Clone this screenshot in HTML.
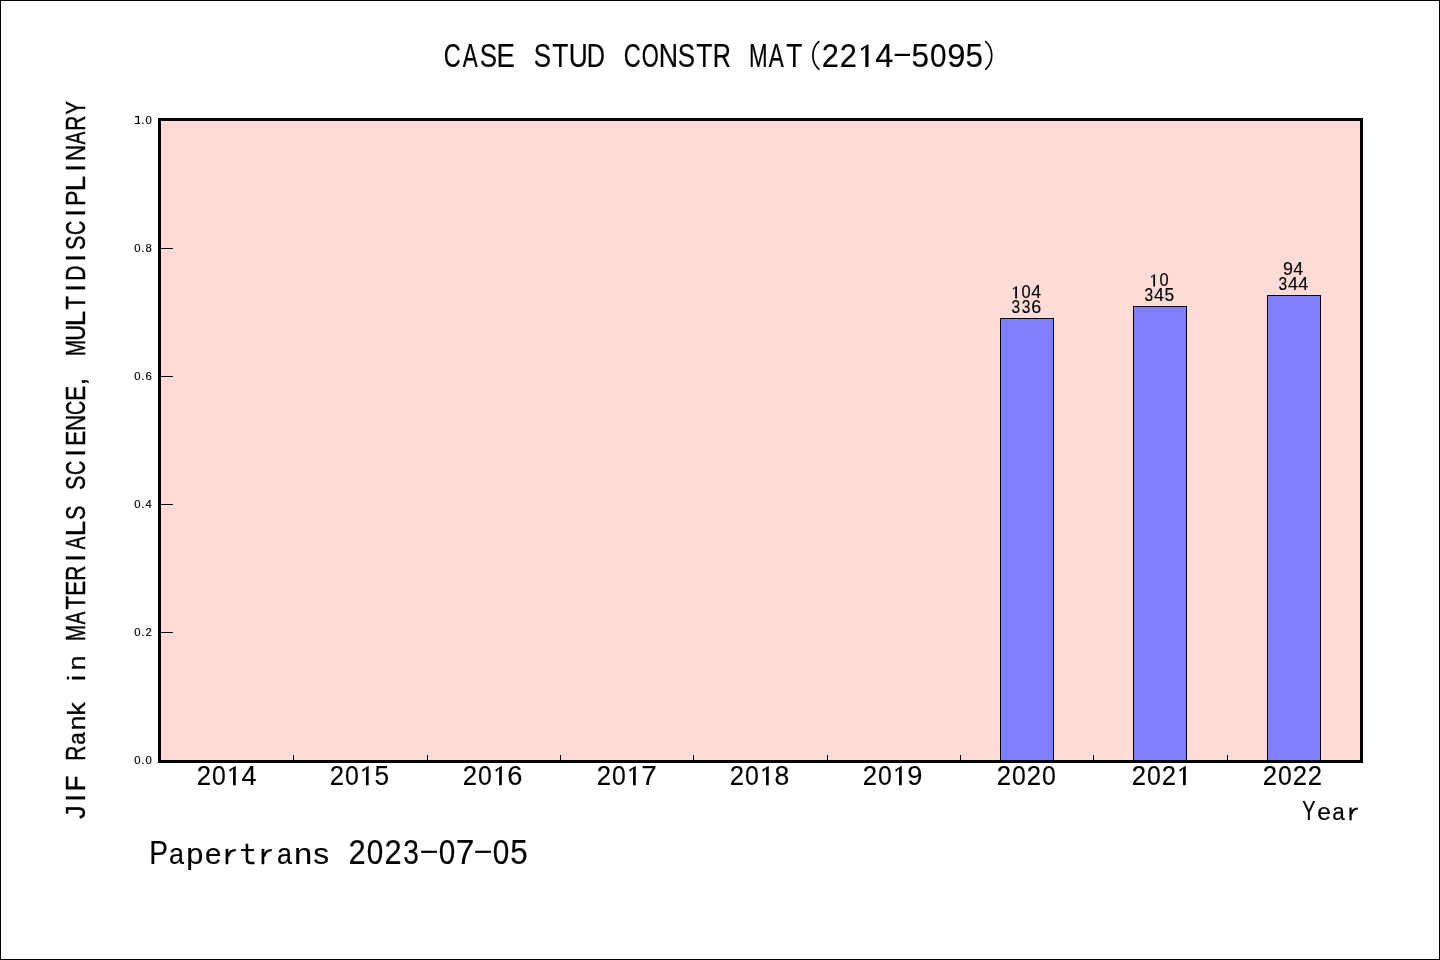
<!DOCTYPE html><html><head><meta charset="utf-8"><title>CASE STUD CONSTR MAT</title><style>html,body{margin:0;padding:0;background:#fff;width:1440px;height:960px;overflow:hidden}svg{display:block;will-change:transform}</style></head><body>
<svg width="1440" height="960" viewBox="0 0 1440 960">
<rect x="0.5" y="0.5" width="1439" height="959" fill="#fff" stroke="#000" stroke-width="1"/>
<rect x="158" y="118" width="1205" height="645" fill="#000"/>
<rect x="161" y="121" width="1199" height="639" fill="#fddbd7"/>
<rect x="161" y="632" width="12" height="1" fill="#000"/>
<rect x="161" y="504" width="12" height="1" fill="#000"/>
<rect x="161" y="376" width="12" height="1" fill="#000"/>
<rect x="161" y="248" width="12" height="1" fill="#000"/>
<rect x="293" y="755" width="1" height="5" fill="#000"/>
<rect x="427" y="755" width="1" height="5" fill="#000"/>
<rect x="560" y="755" width="1" height="5" fill="#000"/>
<rect x="693" y="755" width="1" height="5" fill="#000"/>
<rect x="827" y="755" width="1" height="5" fill="#000"/>
<rect x="960" y="755" width="1" height="5" fill="#000"/>
<rect x="1093" y="755" width="1" height="5" fill="#000"/>
<rect x="1227" y="755" width="1" height="5" fill="#000"/>
<rect x="1000" y="318" width="54" height="442" fill="#000"/>
<rect x="1001" y="319" width="52" height="441" fill="#8080ff"/>
<rect x="1133" y="306" width="54" height="454" fill="#000"/>
<rect x="1134" y="307" width="52" height="453" fill="#8080ff"/>
<rect x="1267" y="295" width="54" height="465" fill="#000"/>
<rect x="1268" y="296" width="52" height="464" fill="#8080ff"/>
<path d="M1016.94 285.9H1016.94V298.4H1015.2V298.4L1015.2 287.77L1013.24 289.77L1012.73 288.4Z" fill="#000"/>
<text transform="translate(1021.43 298.4) scale(0.918 1.000)" font-size="17.91" font-family='"Liberation Sans",sans-serif' fill="#000" stroke="#000" stroke-width="0.16">0</text>
<text transform="translate(1031.33 298.4) scale(1.000 1.000)" font-size="17.91" font-family='"Liberation Sans",sans-serif' fill="#000" stroke="#000" stroke-width="0.15">4</text>
<text transform="translate(1011.48 312.5) scale(0.867 1.000)" font-size="17.91" font-family='"Liberation Sans",sans-serif' fill="#000" stroke="#000" stroke-width="0.17">3</text>
<text transform="translate(1021.73 312.5) scale(0.867 1.000)" font-size="17.91" font-family='"Liberation Sans",sans-serif' fill="#000" stroke="#000" stroke-width="0.17">3</text>
<text transform="translate(1031.21 312.5) scale(1.000 1.000)" font-size="17.91" font-family='"Liberation Sans",sans-serif' fill="#000" stroke="#000" stroke-width="0.15">6</text>
<path d="M1155.06 273.9H1155.06V286.4H1153.33V286.4L1153.33 275.77L1151.37 277.77L1150.85 276.4Z" fill="#000"/>
<text transform="translate(1159.56 286.4) scale(0.918 1.000)" font-size="17.91" font-family='"Liberation Sans",sans-serif' fill="#000" stroke="#000" stroke-width="0.16">0</text>
<text transform="translate(1144.48 300.5) scale(0.867 1.000)" font-size="17.91" font-family='"Liberation Sans",sans-serif' fill="#000" stroke="#000" stroke-width="0.17">3</text>
<text transform="translate(1154.08 300.5) scale(1.000 1.000)" font-size="17.91" font-family='"Liberation Sans",sans-serif' fill="#000" stroke="#000" stroke-width="0.15">4</text>
<text transform="translate(1164.43 300.5) scale(0.972 1.000)" font-size="17.91" font-family='"Liberation Sans",sans-serif' fill="#000" stroke="#000" stroke-width="0.15">5</text>
<text transform="translate(1282.9 275.4) scale(1.000 1.000)" font-size="17.91" font-family='"Liberation Sans",sans-serif' fill="#000" stroke="#000" stroke-width="0.15">9</text>
<text transform="translate(1293.2 275.4) scale(1.000 1.000)" font-size="17.91" font-family='"Liberation Sans",sans-serif' fill="#000" stroke="#000" stroke-width="0.15">4</text>
<text transform="translate(1278.48 289.5) scale(0.867 1.000)" font-size="17.91" font-family='"Liberation Sans",sans-serif' fill="#000" stroke="#000" stroke-width="0.17">3</text>
<text transform="translate(1288.08 289.5) scale(1.000 1.000)" font-size="17.91" font-family='"Liberation Sans",sans-serif' fill="#000" stroke="#000" stroke-width="0.15">4</text>
<text transform="translate(1298.33 289.5) scale(1.000 1.000)" font-size="17.91" font-family='"Liberation Sans",sans-serif' fill="#000" stroke="#000" stroke-width="0.15">4</text>
<text transform="translate(443.63 66.9) scale(0.706 1.000)" font-size="33.43" font-family='"Liberation Sans",sans-serif' fill="#000" stroke="#000" stroke-width="0.21">C</text>
<text transform="translate(462.79 66.9) scale(0.674 1.000)" font-size="33.43" font-family='"Liberation Sans",sans-serif' fill="#000" stroke="#000" stroke-width="0.22">A</text>
<text transform="translate(479.65 66.9) scale(0.776 1.000)" font-size="33.43" font-family='"Liberation Sans",sans-serif' fill="#000" stroke="#000" stroke-width="0.19">S</text>
<text transform="translate(496.57 66.9) scale(0.825 1.000)" font-size="33.43" font-family='"Liberation Sans",sans-serif' fill="#000" stroke="#000" stroke-width="0.18">E</text>
<text transform="translate(533.65 66.9) scale(0.776 1.000)" font-size="33.43" font-family='"Liberation Sans",sans-serif' fill="#000" stroke="#000" stroke-width="0.19">S</text>
<text transform="translate(552.24 66.9) scale(0.790 1.000)" font-size="33.43" font-family='"Liberation Sans",sans-serif' fill="#000" stroke="#000" stroke-width="0.19">T</text>
<text transform="translate(568.8 66.9) scale(0.787 1.000)" font-size="33.43" font-family='"Liberation Sans",sans-serif' fill="#000" stroke="#000" stroke-width="0.19">U</text>
<text transform="translate(586.76 66.9) scale(0.755 1.000)" font-size="33.43" font-family='"Liberation Sans",sans-serif' fill="#000" stroke="#000" stroke-width="0.2">D</text>
<text transform="translate(623.63 66.9) scale(0.706 1.000)" font-size="33.43" font-family='"Liberation Sans",sans-serif' fill="#000" stroke="#000" stroke-width="0.21">C</text>
<text transform="translate(641.79 66.9) scale(0.655 1.000)" font-size="33.43" font-family='"Liberation Sans",sans-serif' fill="#000" stroke="#000" stroke-width="0.23">O</text>
<text transform="translate(658.64 66.9) scale(0.800 1.000)" font-size="33.43" font-family='"Liberation Sans",sans-serif' fill="#000" stroke="#000" stroke-width="0.19">N</text>
<text transform="translate(677.65 66.9) scale(0.776 1.000)" font-size="33.43" font-family='"Liberation Sans",sans-serif' fill="#000" stroke="#000" stroke-width="0.19">S</text>
<text transform="translate(696.24 66.9) scale(0.790 1.000)" font-size="33.43" font-family='"Liberation Sans",sans-serif' fill="#000" stroke="#000" stroke-width="0.19">T</text>
<text transform="translate(712.77 66.9) scale(0.753 1.000)" font-size="33.43" font-family='"Liberation Sans",sans-serif' fill="#000" stroke="#000" stroke-width="0.2">R</text>
<text transform="translate(749 66.9) scale(0.668 1.000)" font-size="33.43" font-family='"Liberation Sans",sans-serif' fill="#000" stroke="#000" stroke-width="0.22">M</text>
<text transform="translate(768.79 66.9) scale(0.674 1.000)" font-size="33.43" font-family='"Liberation Sans",sans-serif' fill="#000" stroke="#000" stroke-width="0.22">A</text>
<text transform="translate(786.24 66.9) scale(0.790 1.000)" font-size="33.43" font-family='"Liberation Sans",sans-serif' fill="#000" stroke="#000" stroke-width="0.19">T</text>
<path d="M819.35 41.2A18.76 18.76 0 0 0 819.35 69.6" fill="none" stroke="#000" stroke-width="1.7"/>
<text transform="translate(821.73 66.9) scale(0.922 1.020)" font-size="33.43" font-family='"Liberation Sans",sans-serif' fill="#000" stroke="#000" stroke-width="0.16">2</text>
<text transform="translate(839.73 66.9) scale(0.922 1.020)" font-size="33.43" font-family='"Liberation Sans",sans-serif' fill="#000" stroke="#000" stroke-width="0.16">2</text>
<path d="M868.49 43.9H868.49V66.9H865.29V66.9L865.29 47.35L861.69 51.03L860.74 48.5Z" fill="#000"/>
<text transform="translate(875.36 66.9) scale(0.972 1.020)" font-size="33.43" font-family='"Liberation Sans",sans-serif' fill="#000" stroke="#000" stroke-width="0.15">4</text>
<rect x="894.6" y="53.8" width="15.4" height="2.2" fill="#000"/>
<text transform="translate(911.57 66.9) scale(0.943 1.020)" font-size="33.43" font-family='"Liberation Sans",sans-serif' fill="#000" stroke="#000" stroke-width="0.16">5</text>
<text transform="translate(930.03 66.9) scale(0.890 1.020)" font-size="33.43" font-family='"Liberation Sans",sans-serif' fill="#000" stroke="#000" stroke-width="0.17">0</text>
<text transform="translate(947.21 66.9) scale(0.979 1.020)" font-size="33.43" font-family='"Liberation Sans",sans-serif' fill="#000" stroke="#000" stroke-width="0.15">9</text>
<text transform="translate(965.57 66.9) scale(0.943 1.020)" font-size="33.43" font-family='"Liberation Sans",sans-serif' fill="#000" stroke="#000" stroke-width="0.16">5</text>
<path d="M985.25 41.2A18.76 18.76 0 0 1 985.25 69.6" fill="none" stroke="#000" stroke-width="1.7"/>
<text transform="translate(196.76 785.3) scale(0.922 1.000)" font-size="27.87" font-family='"Liberation Sans",sans-serif' fill="#000" stroke="#000" stroke-width="0.16">2</text>
<text transform="translate(212.01 785.3) scale(0.890 1.000)" font-size="27.87" font-family='"Liberation Sans",sans-serif' fill="#000" stroke="#000" stroke-width="0.17">0</text>
<path d="M235.75 765.85H235.75V785.3H233.05V785.3L233.05 768.77L230 771.88L229.2 769.74Z" fill="#000"/>
<text transform="translate(241.45 785.3) scale(0.972 1.000)" font-size="27.87" font-family='"Liberation Sans",sans-serif' fill="#000" stroke="#000" stroke-width="0.15">4</text>
<text transform="translate(329.66 785.3) scale(0.922 1.000)" font-size="27.87" font-family='"Liberation Sans",sans-serif' fill="#000" stroke="#000" stroke-width="0.16">2</text>
<text transform="translate(344.91 785.3) scale(0.890 1.000)" font-size="27.87" font-family='"Liberation Sans",sans-serif' fill="#000" stroke="#000" stroke-width="0.17">0</text>
<path d="M368.65 765.85H368.65V785.3H365.95V785.3L365.95 768.77L362.9 771.88L362.1 769.74Z" fill="#000"/>
<text transform="translate(374.52 785.3) scale(0.942 1.000)" font-size="27.87" font-family='"Liberation Sans",sans-serif' fill="#000" stroke="#000" stroke-width="0.16">5</text>
<text transform="translate(462.86 785.3) scale(0.922 1.000)" font-size="27.87" font-family='"Liberation Sans",sans-serif' fill="#000" stroke="#000" stroke-width="0.16">2</text>
<text transform="translate(478.11 785.3) scale(0.890 1.000)" font-size="27.87" font-family='"Liberation Sans",sans-serif' fill="#000" stroke="#000" stroke-width="0.17">0</text>
<path d="M501.85 765.85H501.85V785.3H499.15V785.3L499.15 768.77L496.1 771.88L495.3 769.74Z" fill="#000"/>
<text transform="translate(507.31 785.3) scale(0.980 1.000)" font-size="27.87" font-family='"Liberation Sans",sans-serif' fill="#000" stroke="#000" stroke-width="0.15">6</text>
<text transform="translate(596.76 785.3) scale(0.922 1.000)" font-size="27.87" font-family='"Liberation Sans",sans-serif' fill="#000" stroke="#000" stroke-width="0.16">2</text>
<text transform="translate(612.01 785.3) scale(0.890 1.000)" font-size="27.87" font-family='"Liberation Sans",sans-serif' fill="#000" stroke="#000" stroke-width="0.17">0</text>
<path d="M635.75 765.85H635.75V785.3H633.05V785.3L633.05 768.77L630 771.88L629.2 769.74Z" fill="#000"/>
<text transform="translate(641.14 785.3) scale(1.000 1.000)" font-size="27.87" font-family='"Liberation Sans",sans-serif' fill="#000" stroke="#000" stroke-width="0.15">7</text>
<text transform="translate(729.76 785.3) scale(0.922 1.000)" font-size="27.87" font-family='"Liberation Sans",sans-serif' fill="#000" stroke="#000" stroke-width="0.16">2</text>
<text transform="translate(745.01 785.3) scale(0.890 1.000)" font-size="27.87" font-family='"Liberation Sans",sans-serif' fill="#000" stroke="#000" stroke-width="0.17">0</text>
<path d="M768.75 765.85H768.75V785.3H766.05V785.3L766.05 768.77L763 771.88L762.2 769.74Z" fill="#000"/>
<text transform="translate(774.52 785.3) scale(0.952 1.000)" font-size="27.87" font-family='"Liberation Sans",sans-serif' fill="#000" stroke="#000" stroke-width="0.16">8</text>
<text transform="translate(862.76 785.3) scale(0.922 1.000)" font-size="27.87" font-family='"Liberation Sans",sans-serif' fill="#000" stroke="#000" stroke-width="0.16">2</text>
<text transform="translate(878.01 785.3) scale(0.890 1.000)" font-size="27.87" font-family='"Liberation Sans",sans-serif' fill="#000" stroke="#000" stroke-width="0.17">0</text>
<path d="M901.75 765.85H901.75V785.3H899.05V785.3L899.05 768.77L896 771.88L895.2 769.74Z" fill="#000"/>
<text transform="translate(907.32 785.3) scale(0.979 1.000)" font-size="27.87" font-family='"Liberation Sans",sans-serif' fill="#000" stroke="#000" stroke-width="0.15">9</text>
<text transform="translate(996.76 785.3) scale(0.922 1.000)" font-size="27.87" font-family='"Liberation Sans",sans-serif' fill="#000" stroke="#000" stroke-width="0.16">2</text>
<text transform="translate(1012.01 785.3) scale(0.890 1.000)" font-size="27.87" font-family='"Liberation Sans",sans-serif' fill="#000" stroke="#000" stroke-width="0.17">0</text>
<text transform="translate(1026.76 785.3) scale(0.922 1.000)" font-size="27.87" font-family='"Liberation Sans",sans-serif' fill="#000" stroke="#000" stroke-width="0.16">2</text>
<text transform="translate(1042.01 785.3) scale(0.890 1.000)" font-size="27.87" font-family='"Liberation Sans",sans-serif' fill="#000" stroke="#000" stroke-width="0.17">0</text>
<text transform="translate(1131.76 785.3) scale(0.922 1.000)" font-size="27.87" font-family='"Liberation Sans",sans-serif' fill="#000" stroke="#000" stroke-width="0.16">2</text>
<text transform="translate(1147.01 785.3) scale(0.890 1.000)" font-size="27.87" font-family='"Liberation Sans",sans-serif' fill="#000" stroke="#000" stroke-width="0.17">0</text>
<text transform="translate(1161.76 785.3) scale(0.922 1.000)" font-size="27.87" font-family='"Liberation Sans",sans-serif' fill="#000" stroke="#000" stroke-width="0.16">2</text>
<path d="M1185.75 765.85H1185.75V785.3H1183.05V785.3L1183.05 768.77L1180 771.88L1179.2 769.74Z" fill="#000"/>
<text transform="translate(1262.76 785.3) scale(0.922 1.000)" font-size="27.87" font-family='"Liberation Sans",sans-serif' fill="#000" stroke="#000" stroke-width="0.16">2</text>
<text transform="translate(1278.01 785.3) scale(0.890 1.000)" font-size="27.87" font-family='"Liberation Sans",sans-serif' fill="#000" stroke="#000" stroke-width="0.17">0</text>
<text transform="translate(1292.76 785.3) scale(0.922 1.000)" font-size="27.87" font-family='"Liberation Sans",sans-serif' fill="#000" stroke="#000" stroke-width="0.16">2</text>
<text transform="translate(1307.76 785.3) scale(0.922 1.000)" font-size="27.87" font-family='"Liberation Sans",sans-serif' fill="#000" stroke="#000" stroke-width="0.16">2</text>
<text transform="translate(1302.34 820.3) scale(0.705 1.000)" font-size="28.34" font-family='"Liberation Sans",sans-serif' fill="#000" stroke="#000" stroke-width="0.21">Y</text>
<text transform="translate(1317.18 820.3) scale(0.868 0.860)" font-size="28.34" font-family='"Liberation Sans",sans-serif' fill="#000" stroke="#000" stroke-width="0.17">e</text>
<text transform="translate(1332.27 820.3) scale(0.793 0.860)" font-size="28.34" font-family='"Liberation Sans",sans-serif' fill="#000" stroke="#000" stroke-width="0.19">a</text>
<rect x="1349.42" y="807.55" width="2.25" height="12.75" fill="#000"/>
<path d="M1351.54 813.97C1352.33 809.63 1354.5 808.59 1357.92 808.59" fill="none" stroke="#000" stroke-width="1.96"/>
<text transform="translate(149.33 864.2) scale(0.832 1.000)" font-size="33.72" font-family='"Liberation Sans",sans-serif' fill="#000" stroke="#000" stroke-width="0.18">P</text>
<text transform="translate(169.02 864.2) scale(0.800 0.860)" font-size="33.72" font-family='"Liberation Sans",sans-serif' fill="#000" stroke="#000" stroke-width="0.19">a</text>
<text transform="translate(186.18 864.2) scale(0.914 0.860)" font-size="33.72" font-family='"Liberation Sans",sans-serif' fill="#000" stroke="#000" stroke-width="0.16">p</text>
<text transform="translate(204.92 864.2) scale(0.876 0.860)" font-size="33.72" font-family='"Liberation Sans",sans-serif' fill="#000" stroke="#000" stroke-width="0.17">e</text>
<rect x="225.6" y="848.9" width="2.7" height="15.3" fill="#000"/>
<path d="M228.15 856.6C229.1 851.4 231.7 850.15 235.8 850.15" fill="none" stroke="#000" stroke-width="2.35"/>
<path d="M246.95 843.7V859.2Q246.95 863.05 251.3 863.05H254.5" fill="none" stroke="#000" stroke-width="2.6"/>
<rect x="241" y="849.1" width="13" height="2" fill="#000"/>
<rect x="261.6" y="848.9" width="2.7" height="15.3" fill="#000"/>
<path d="M264.15 856.6C265.1 851.4 267.7 850.15 271.8 850.15" fill="none" stroke="#000" stroke-width="2.35"/>
<text transform="translate(277.02 864.2) scale(0.800 0.860)" font-size="33.72" font-family='"Liberation Sans",sans-serif' fill="#000" stroke="#000" stroke-width="0.19">a</text>
<text transform="translate(294 864.2) scale(0.968 0.860)" font-size="33.72" font-family='"Liberation Sans",sans-serif' fill="#000" stroke="#000" stroke-width="0.16">n</text>
<text transform="translate(313.29 864.2) scale(0.943 0.860)" font-size="33.72" font-family='"Liberation Sans",sans-serif' fill="#000" stroke="#000" stroke-width="0.16">s</text>
<text transform="translate(348.53 864.2) scale(0.914 1.020)" font-size="33.72" font-family='"Liberation Sans",sans-serif' fill="#000" stroke="#000" stroke-width="0.16">2</text>
<text transform="translate(366.83 864.2) scale(0.882 1.020)" font-size="33.72" font-family='"Liberation Sans",sans-serif' fill="#000" stroke="#000" stroke-width="0.17">0</text>
<text transform="translate(384.53 864.2) scale(0.914 1.020)" font-size="33.72" font-family='"Liberation Sans",sans-serif' fill="#000" stroke="#000" stroke-width="0.16">2</text>
<text transform="translate(403.37 864.2) scale(0.833 1.020)" font-size="33.72" font-family='"Liberation Sans",sans-serif' fill="#000" stroke="#000" stroke-width="0.18">3</text>
<rect x="421.2" y="850.7" width="15.8" height="2.2" fill="#000"/>
<text transform="translate(438.83 864.2) scale(0.882 1.020)" font-size="33.72" font-family='"Liberation Sans",sans-serif' fill="#000" stroke="#000" stroke-width="0.17">0</text>
<text transform="translate(455.72 864.2) scale(0.998 1.020)" font-size="33.72" font-family='"Liberation Sans",sans-serif' fill="#000" stroke="#000" stroke-width="0.15">7</text>
<rect x="475.2" y="850.7" width="15.8" height="2.2" fill="#000"/>
<text transform="translate(492.83 864.2) scale(0.882 1.020)" font-size="33.72" font-family='"Liberation Sans",sans-serif' fill="#000" stroke="#000" stroke-width="0.17">0</text>
<text transform="translate(510.37 864.2) scale(0.934 1.020)" font-size="33.72" font-family='"Liberation Sans",sans-serif' fill="#000" stroke="#000" stroke-width="0.16">5</text>
<text transform="translate(134.25 763.95) scale(1.000 1.000)" font-size="11.32" font-family='"Liberation Sans",sans-serif' fill="#000" stroke="#000" stroke-width="0.15">0</text>
<text transform="translate(141.23 763.95) scale(1.000 1.000)" font-size="11.32" font-family='"Liberation Sans",sans-serif' fill="#000" stroke="#000" stroke-width="0.15">.</text>
<text transform="translate(145.45 763.95) scale(1.000 1.000)" font-size="11.32" font-family='"Liberation Sans",sans-serif' fill="#000" stroke="#000" stroke-width="0.15">0</text>
<text transform="translate(134.25 635.95) scale(1.000 1.000)" font-size="11.32" font-family='"Liberation Sans",sans-serif' fill="#000" stroke="#000" stroke-width="0.15">0</text>
<text transform="translate(141.23 635.95) scale(1.000 1.000)" font-size="11.32" font-family='"Liberation Sans",sans-serif' fill="#000" stroke="#000" stroke-width="0.15">.</text>
<text transform="translate(145.45 635.95) scale(1.000 1.000)" font-size="11.32" font-family='"Liberation Sans",sans-serif' fill="#000" stroke="#000" stroke-width="0.15">2</text>
<text transform="translate(134.25 507.95) scale(1.000 1.000)" font-size="11.32" font-family='"Liberation Sans",sans-serif' fill="#000" stroke="#000" stroke-width="0.15">0</text>
<text transform="translate(141.23 507.95) scale(1.000 1.000)" font-size="11.32" font-family='"Liberation Sans",sans-serif' fill="#000" stroke="#000" stroke-width="0.15">.</text>
<text transform="translate(145.52 507.95) scale(0.991 1.000)" font-size="11.32" font-family='"Liberation Sans",sans-serif' fill="#000" stroke="#000" stroke-width="0.15">4</text>
<text transform="translate(134.25 379.95) scale(1.000 1.000)" font-size="11.32" font-family='"Liberation Sans",sans-serif' fill="#000" stroke="#000" stroke-width="0.15">0</text>
<text transform="translate(141.23 379.95) scale(1.000 1.000)" font-size="11.32" font-family='"Liberation Sans",sans-serif' fill="#000" stroke="#000" stroke-width="0.15">.</text>
<text transform="translate(145.41 379.95) scale(1.000 1.000)" font-size="11.32" font-family='"Liberation Sans",sans-serif' fill="#000" stroke="#000" stroke-width="0.15">6</text>
<text transform="translate(134.25 251.95) scale(1.000 1.000)" font-size="11.32" font-family='"Liberation Sans",sans-serif' fill="#000" stroke="#000" stroke-width="0.15">0</text>
<text transform="translate(141.23 251.95) scale(1.000 1.000)" font-size="11.32" font-family='"Liberation Sans",sans-serif' fill="#000" stroke="#000" stroke-width="0.15">.</text>
<text transform="translate(145.45 251.95) scale(1.000 1.000)" font-size="11.32" font-family='"Liberation Sans",sans-serif' fill="#000" stroke="#000" stroke-width="0.15">8</text>
<path d="M137.7 116.05H139.05V123H140.1V124H134.9V123H137.7V117.15H134.9V116.2Z" fill="#000"/>
<text transform="translate(141.23 123.95) scale(1.000 1.000)" font-size="11.32" font-family='"Liberation Sans",sans-serif' fill="#000" stroke="#000" stroke-width="0.15">.</text>
<text transform="translate(145.45 123.95) scale(1.000 1.000)" font-size="11.32" font-family='"Liberation Sans",sans-serif' fill="#000" stroke="#000" stroke-width="0.15">0</text>
<g transform="translate(85.3 812.9) rotate(-90)">
<text transform="translate(-6.16 0) scale(1.000 1.000)" font-size="27.91" font-family='"Liberation Sans",sans-serif' fill="#000" stroke="#000" stroke-width="0.35">J</text>
<text transform="translate(11.12 0) scale(1.000 1.000)" font-size="27.91" font-family='"Liberation Sans",sans-serif' fill="#000" stroke="#000" stroke-width="0.35">I</text>
<text transform="translate(21.69 0) scale(0.913 1.000)" font-size="27.91" font-family='"Liberation Sans",sans-serif' fill="#000" stroke="#000" stroke-width="0.38">F</text>
<text transform="translate(52.05 0) scale(0.751 1.000)" font-size="27.91" font-family='"Liberation Sans",sans-serif' fill="#000" stroke="#000" stroke-width="0.47">R</text>
<text transform="translate(68.27 0) scale(0.806 0.860)" font-size="27.91" font-family='"Liberation Sans",sans-serif' fill="#000" stroke="#000" stroke-width="0.43">a</text>
<text transform="translate(82.42 0) scale(0.974 0.860)" font-size="27.91" font-family='"Liberation Sans",sans-serif' fill="#000" stroke="#000" stroke-width="0.36">n</text>
<text transform="translate(97.43 0) scale(0.953 0.860)" font-size="27.91" font-family='"Liberation Sans",sans-serif' fill="#000" stroke="#000" stroke-width="0.37">k</text>
<text transform="translate(131.91 0) scale(1.000 0.860)" font-size="27.91" font-family='"Liberation Sans",sans-serif' fill="#000" stroke="#000" stroke-width="0.35">i</text>
<text transform="translate(142.42 0) scale(0.974 0.860)" font-size="27.91" font-family='"Liberation Sans",sans-serif' fill="#000" stroke="#000" stroke-width="0.36">n</text>
<text transform="translate(172.25 0) scale(0.667 1.000)" font-size="27.91" font-family='"Liberation Sans",sans-serif' fill="#000" stroke="#000" stroke-width="0.52">M</text>
<text transform="translate(188.74 0) scale(0.673 1.000)" font-size="27.91" font-family='"Liberation Sans",sans-serif' fill="#000" stroke="#000" stroke-width="0.52">A</text>
<text transform="translate(203.28 0) scale(0.789 1.000)" font-size="27.91" font-family='"Liberation Sans",sans-serif' fill="#000" stroke="#000" stroke-width="0.44">T</text>
<text transform="translate(216.89 0) scale(0.823 1.000)" font-size="27.91" font-family='"Liberation Sans",sans-serif' fill="#000" stroke="#000" stroke-width="0.43">E</text>
<text transform="translate(232.05 0) scale(0.751 1.000)" font-size="27.91" font-family='"Liberation Sans",sans-serif' fill="#000" stroke="#000" stroke-width="0.47">R</text>
<text transform="translate(251.12 0) scale(1.000 1.000)" font-size="27.91" font-family='"Liberation Sans",sans-serif' fill="#000" stroke="#000" stroke-width="0.35">I</text>
<text transform="translate(263.74 0) scale(0.673 1.000)" font-size="27.91" font-family='"Liberation Sans",sans-serif' fill="#000" stroke="#000" stroke-width="0.52">A</text>
<text transform="translate(276.56 0) scale(1.000 1.000)" font-size="27.91" font-family='"Liberation Sans",sans-serif' fill="#000" stroke="#000" stroke-width="0.35">L</text>
<text transform="translate(292.79 0) scale(0.775 1.000)" font-size="27.91" font-family='"Liberation Sans",sans-serif' fill="#000" stroke="#000" stroke-width="0.45">S</text>
<text transform="translate(322.79 0) scale(0.775 1.000)" font-size="27.91" font-family='"Liberation Sans",sans-serif' fill="#000" stroke="#000" stroke-width="0.45">S</text>
<text transform="translate(337.78 0) scale(0.704 1.000)" font-size="27.91" font-family='"Liberation Sans",sans-serif' fill="#000" stroke="#000" stroke-width="0.5">C</text>
<text transform="translate(356.12 0) scale(1.000 1.000)" font-size="27.91" font-family='"Liberation Sans",sans-serif' fill="#000" stroke="#000" stroke-width="0.35">I</text>
<text transform="translate(366.89 0) scale(0.823 1.000)" font-size="27.91" font-family='"Liberation Sans",sans-serif' fill="#000" stroke="#000" stroke-width="0.43">E</text>
<text transform="translate(381.95 0) scale(0.799 1.000)" font-size="27.91" font-family='"Liberation Sans",sans-serif' fill="#000" stroke="#000" stroke-width="0.44">N</text>
<text transform="translate(397.78 0) scale(0.704 1.000)" font-size="27.91" font-family='"Liberation Sans",sans-serif' fill="#000" stroke="#000" stroke-width="0.5">C</text>
<text transform="translate(411.89 0) scale(0.823 1.000)" font-size="27.91" font-family='"Liberation Sans",sans-serif' fill="#000" stroke="#000" stroke-width="0.43">E</text>
<text transform="translate(427.32 0) scale(1.000 1.000)" font-size="27.91" font-family='"Liberation Sans",sans-serif' fill="#000" stroke="#000" stroke-width="0.35">,</text>
<text transform="translate(457.25 0) scale(0.667 1.000)" font-size="27.91" font-family='"Liberation Sans",sans-serif' fill="#000" stroke="#000" stroke-width="0.52">M</text>
<text transform="translate(472.08 0) scale(0.786 1.000)" font-size="27.91" font-family='"Liberation Sans",sans-serif' fill="#000" stroke="#000" stroke-width="0.45">U</text>
<text transform="translate(486.56 0) scale(1.000 1.000)" font-size="27.91" font-family='"Liberation Sans",sans-serif' fill="#000" stroke="#000" stroke-width="0.35">L</text>
<text transform="translate(503.28 0) scale(0.789 1.000)" font-size="27.91" font-family='"Liberation Sans",sans-serif' fill="#000" stroke="#000" stroke-width="0.44">T</text>
<text transform="translate(521.12 0) scale(1.000 1.000)" font-size="27.91" font-family='"Liberation Sans",sans-serif' fill="#000" stroke="#000" stroke-width="0.35">I</text>
<text transform="translate(532.05 0) scale(0.753 1.000)" font-size="27.91" font-family='"Liberation Sans",sans-serif' fill="#000" stroke="#000" stroke-width="0.46">D</text>
<text transform="translate(551.12 0) scale(1.000 1.000)" font-size="27.91" font-family='"Liberation Sans",sans-serif' fill="#000" stroke="#000" stroke-width="0.35">I</text>
<text transform="translate(562.79 0) scale(0.775 1.000)" font-size="27.91" font-family='"Liberation Sans",sans-serif' fill="#000" stroke="#000" stroke-width="0.45">S</text>
<text transform="translate(577.78 0) scale(0.704 1.000)" font-size="27.91" font-family='"Liberation Sans",sans-serif' fill="#000" stroke="#000" stroke-width="0.5">C</text>
<text transform="translate(596.12 0) scale(1.000 1.000)" font-size="27.91" font-family='"Liberation Sans",sans-serif' fill="#000" stroke="#000" stroke-width="0.35">I</text>
<text transform="translate(606.86 0) scale(0.838 1.000)" font-size="27.91" font-family='"Liberation Sans",sans-serif' fill="#000" stroke="#000" stroke-width="0.42">P</text>
<text transform="translate(621.56 0) scale(1.000 1.000)" font-size="27.91" font-family='"Liberation Sans",sans-serif' fill="#000" stroke="#000" stroke-width="0.35">L</text>
<text transform="translate(641.12 0) scale(1.000 1.000)" font-size="27.91" font-family='"Liberation Sans",sans-serif' fill="#000" stroke="#000" stroke-width="0.35">I</text>
<text transform="translate(651.95 0) scale(0.799 1.000)" font-size="27.91" font-family='"Liberation Sans",sans-serif' fill="#000" stroke="#000" stroke-width="0.44">N</text>
<text transform="translate(668.74 0) scale(0.673 1.000)" font-size="27.91" font-family='"Liberation Sans",sans-serif' fill="#000" stroke="#000" stroke-width="0.52">A</text>
<text transform="translate(682.05 0) scale(0.751 1.000)" font-size="27.91" font-family='"Liberation Sans",sans-serif' fill="#000" stroke="#000" stroke-width="0.47">R</text>
<text transform="translate(698.34 0) scale(0.716 1.000)" font-size="27.91" font-family='"Liberation Sans",sans-serif' fill="#000" stroke="#000" stroke-width="0.49">Y</text>
</g>
</svg></body></html>
